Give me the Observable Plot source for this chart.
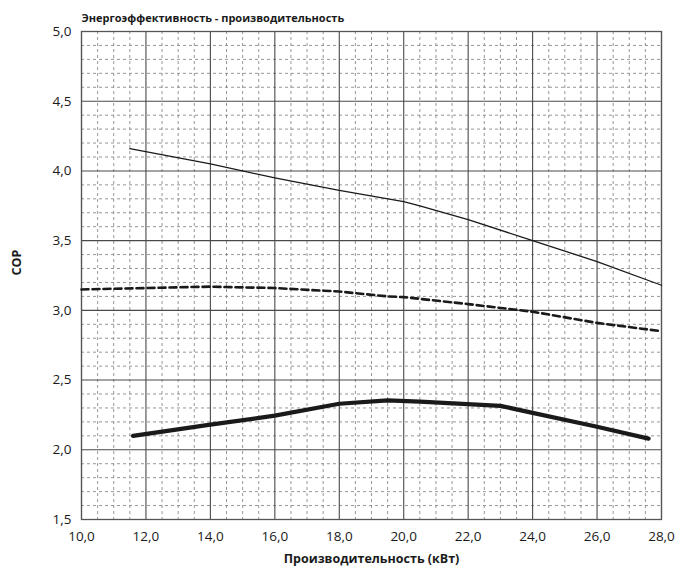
<!DOCTYPE html>
<html>
<head>
<meta charset="utf-8">
<script src="https://cdn.jsdelivr.net/npm/d3@7"></script>
<script src="https://cdn.jsdelivr.net/npm/@observablehq/plot@0.6"></script>
<style>
  html, body { margin: 0; padding: 0; background: #fff; }
  #chart { width: 681px; height: 574px; }
</style>
</head>
<body>
<div id="chart"></div>
<script>
// ---- data ----
const titleText = "Энергоэффективность - производительность";
const xLabel = "Производительность (кВт)";
const yLabel = "COP";

const thinX = [11.5, 14, 16, 18, 20, 20.5, 22, 24, 26, 28];
const thinY = [4.16, 4.05, 3.95, 3.86, 3.78, 3.75, 3.65, 3.50, 3.35, 3.18];

const dashX = [10, 12, 14, 16, 18, 19.5, 20, 22, 24, 26, 28];
const dashY = [3.15, 3.16, 3.17, 3.16, 3.135, 3.10, 3.095, 3.045, 2.99, 2.91, 2.85];

const thickX = [11.6, 14, 16, 18, 19.5, 20.5, 23, 24, 26, 27.6];
const thickY = [2.10, 2.18, 2.245, 2.33, 2.355, 2.345, 2.315, 2.265, 2.165, 2.08];

const xTicks = [10, 12, 14, 16, 18, 20, 22, 24, 26, 28];
const yTicks = [1.5, 2.0, 2.5, 3.0, 3.5, 4.0, 4.5, 5.0];

// ---- build ----
const toRows = (xs, ys) => xs.map((x, i) => ({x, y: ys[i]}));
const thin = toRows(thinX, thinY);
const dash = toRows(dashX, dashY);
const thick = toRows(thickX, thickY);

const xMinor = d3.range(10, 28.001, 0.5).filter(v => Math.abs(v / 2 - Math.round(v / 2)) > 1e-6);
const yMinor = d3.range(1.5, 5.001, 0.1).map(v => +v.toFixed(2)).filter(v => Math.abs(v * 2 - Math.round(v * 2)) > 1e-6);
const fmt = v => d3.format(".1f")(v).replace(".", ",");

const font = "'Open Sans', 'Noto Sans', sans-serif";

const plot = Plot.plot({
  width: 681,
  height: 574,
  marginLeft: 81,
  marginRight: 20,
  marginTop: 31,
  marginBottom: 55,
  style: { fontFamily: font, fontSize: "13.5px", color: "#1a1a1a", background: "#fff" },
  x: { domain: [10, 28], ticks: xTicks, tickFormat: fmt, tickSize: 0, tickPadding: 12, label: null },
  y: { domain: [1.5, 5.0], ticks: yTicks, tickFormat: fmt, tickSize: 0, tickPadding: 10, label: null },
  marks: [
    Plot.ruleX(xMinor, { stroke: "#8a8a8a", strokeWidth: 0.9, strokeDasharray: "3,3" }),
    Plot.ruleY(yMinor, { stroke: "#8a8a8a", strokeWidth: 0.9, strokeDasharray: "3,3" }),
    Plot.ruleX(xTicks, { stroke: "#4a4a4a", strokeWidth: 1.1 }),
    Plot.ruleY(yTicks, { stroke: "#4a4a4a", strokeWidth: 1.1 }),
    Plot.frame({ stroke: "#555", strokeWidth: 1.3 }),
    Plot.line(thin, { x: "x", y: "y", stroke: "#1a1a1a", strokeWidth: 1.3 }),
    Plot.line(dash, { x: "x", y: "y", stroke: "#1a1a1a", strokeWidth: 2.6, strokeDasharray: "7,4" }),
    Plot.line(thick, { x: "x", y: "y", stroke: "#1a1a1a", strokeWidth: 4.2, strokeLinejoin: "round" }),
    Plot.axisX({ ticks: xTicks, tickFormat: fmt, tickSize: 0, tickPadding: 12, label: null, fontSize: 13.5 }),
    Plot.axisY({ ticks: yTicks, tickFormat: fmt, tickSize: 0, tickPadding: 10, label: null, fontSize: 13.5 }),
    Plot.text([titleText], { frameAnchor: "top-left", dy: -17, text: d => d, textAnchor: "start", fontWeight: "bold", fontSize: 11 }),
    Plot.text([xLabel], { frameAnchor: "bottom", dy: 43, text: d => d, fontWeight: "bold", fontSize: 12.5 }),
    Plot.text([yLabel], { frameAnchor: "left", dx: -65, rotate: -90, text: d => d, fontWeight: "bold", fontSize: 12.5 })
  ]
});
document.getElementById("chart").appendChild(plot);
</script>
</body>
</html>
